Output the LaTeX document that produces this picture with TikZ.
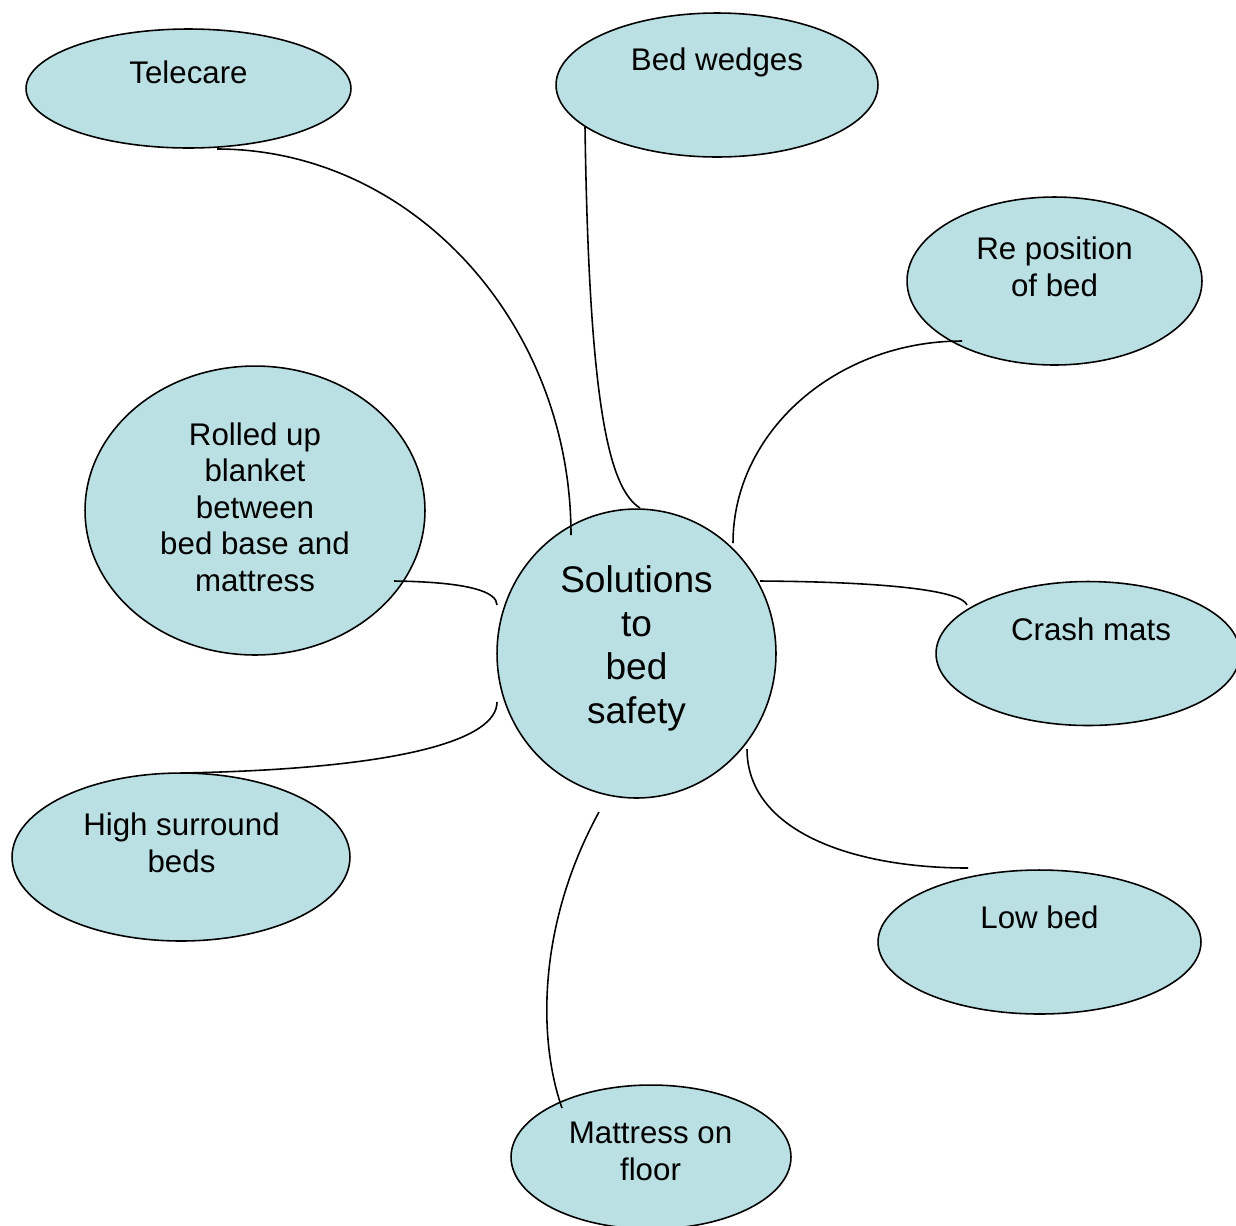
\documentclass[tikz,border=0pt]{standalone}
\usepackage{fontspec}
\setmainfont{Liberation Sans}
\usetikzlibrary{shapes.geometric,calc}
\definecolor{bubblefill}{RGB}{186,224,227}
\begin{document}
\begin{tikzpicture}[x=0.02cm,y=-0.02cm,
  bubble/.style={ellipse,draw=black,fill=bubblefill,line width=0.9pt,inner sep=0pt,outer sep=0pt},
  txt/.style={anchor=base,align=center,inner sep=0pt,font=\fontsize{17.8pt}{20.7pt}\selectfont},
  bigtxt/.style={txt,font=\fontsize{21.1pt}{24.8pt}\selectfont},
  link/.style={line width=0.9pt,draw=black}]
\useasboundingbox (0,0) rectangle (1236,1225);
\clip (0,0) rectangle (1236,1225);

% bubbles
\node[bubble,minimum width=6.5cm,minimum height=2.38cm] (tele) at (188.5,88.5) {};
\node[bubble,minimum width=6.44cm,minimum height=2.88cm] (wedge) at (717,85) {};
\node[bubble,minimum width=5.9cm,minimum height=3.36cm] (repos) at (1054.5,281) {};
\node[bubble,minimum width=6.8cm,minimum height=5.78cm] (blanket) at (255,510.5) {};
\node[bubble,minimum width=5.58cm,minimum height=5.78cm] (hub) at (636.5,653.5) {};
\node[bubble,minimum width=6.08cm,minimum height=2.88cm] (crash) at (1088,653.5) {};
\node[bubble,minimum width=6.76cm,minimum height=3.36cm] (high) at (181,857) {};
\node[bubble,minimum width=6.46cm,minimum height=2.88cm] (low) at (1039.5,942) {};
\node[bubble,minimum width=5.6cm,minimum height=2.88cm] (floor) at (651,1157) {};

% labels (multi-line labels are placed by the baseline of their last line)
\node[txt] (tele-t) at (188.5,83) {Telecare};
\node[txt] (wedge-t) at (717,70) {Bed wedges};
\node[txt] (repos-t) at (1054.5,296) {Re position\\of bed};
\node[txt] (blanket-t) at (255,591) {Rolled up\\blanket\\between\\bed base and\\mattress};
\node[bigtxt] (hub-t) at (636.5,723.5) {Solutions\\to\\bed\\safety};
\node[txt] (crash-t) at (1091,640) {Crash mats};
\node[txt] (high-t) at (181.5,872) {High surround\\beds};
\node[txt] (low-t) at (1039.5,928) {Low bed};
\node[txt] (floor-t) at (650.5,1180) {Mattress on\\floor};

% connectors
\draw[link] ($(tele)+(28.5,60.5)$) .. controls (412,149) and (571,323) .. ($(hub)+(-65.5,-118.5)$);
\draw[link] ($(wedge)+(-132,42)$) .. controls (589,400) and (608,488) .. ($(hub)+(3.5,-145.5)$);
\draw[link] ($(repos)+(-92.5,60)$) .. controls (836,341) and (733,432) .. ($(hub)+(96.5,-110.5)$);
\draw[link] ($(hub)+(123.5,-72.5)$) .. controls (900,582) and (962,592) .. ($(crash)+(-121,-48.5)$);
\draw[link] ($(blanket)+(139,70.5)$) .. controls (470,582) and (497,592) .. ($(hub)+(-139.5,-48.5)$);
\draw[link] ($(hub)+(-139.5,48.5)$) .. controls (497,740) and (400,769) .. (high.north);
\draw[link] ($(hub)+(110.5,95.5)$) .. controls (747,830) and (850,868) .. ($(low)+(-71.5,-74)$);
\draw[link] ($(hub)+(-37.5,158.5)$) .. controls (537,925) and (538,1040) .. ($(floor)+(-89,-49)$);
\end{tikzpicture}
\end{document}
